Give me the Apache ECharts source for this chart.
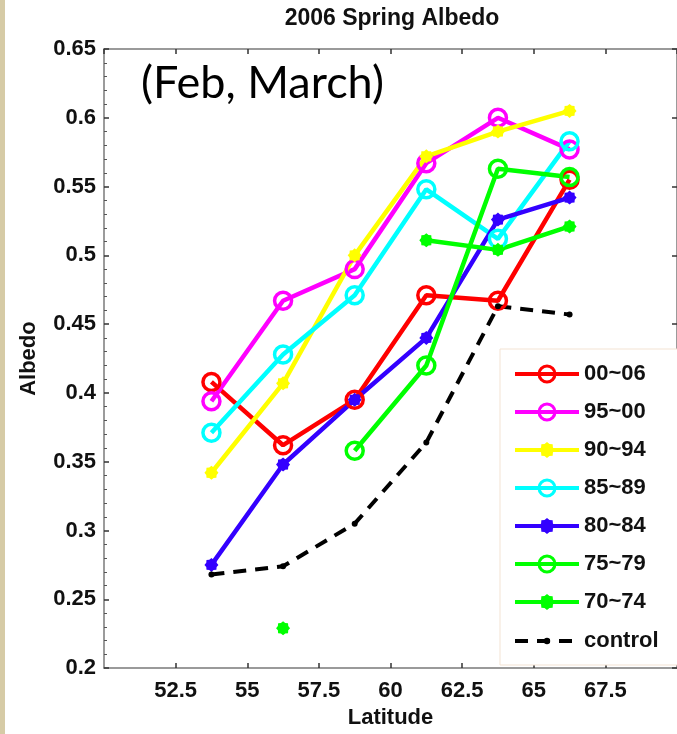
<!DOCTYPE html>
<html>
<head>
<meta charset="utf-8">
<script src="https://cdn.jsdelivr.net/npm/echarts@6/dist/echarts.min.js"></script>
<style>
  html, body { margin: 0; padding: 0; background: #fff; }
  #chart { width: 677px; height: 734px; }
</style>
</head>
<body>
<div id="chart"></div>
<script>
// latitude bins (x) and albedo per period (y)
const latitudes = [53.75, 56.25, 58.75, 61.25, 63.75, 66.25];
const a0006 = [0.408, 0.362, 0.395, 0.471, 0.467, 0.555];
const a9500 = [0.394, 0.467, 0.490, 0.567, 0.600, 0.577];
const a9094 = [0.342, 0.407, 0.500, 0.572, 0.590, 0.605];
const a8589 = [0.371, 0.428, 0.471, 0.548, 0.512, 0.583];
const a8084 = [0.275, 0.348, 0.395, 0.440, 0.526, 0.542];
const a7579 = [null, null, 0.358, 0.420, 0.563, 0.557];
const a7074 = [null, 0.229, null, 0.511, 0.504, 0.521];
const aControl = [0.268, 0.274, 0.305, 0.364, 0.463, 0.457];

const FONT = '"Liberation Sans", Arial, sans-serif';
// blobby 8-arm asterisk like matlab's '*' marker
const star = 'path://M10 0L13.1 2.6L17.07 2.93L17.4 6.9L20 10L17.4 13.1L17.07 17.07L13.1 17.4L10 20L6.9 17.4L2.93 17.07L2.6 13.1L0 10L2.6 6.9L2.93 2.93L6.9 2.6Z';

function pairs(vals) {
  return latitudes.map((x, i) => [x, vals[i]]);
}

function circleSeries(name, vals, color) {
  return {
    name: name, type: 'line', data: pairs(vals),
    symbol: 'circle', symbolSize: 17,
    lineStyle: { color: color, width: 4.5 },
    itemStyle: { color: 'rgba(0,0,0,0)', borderColor: color, borderWidth: 3.5 },
    emphasis: { disabled: true }
  };
}

function starSeries(name, vals, color) {
  return {
    name: name, type: 'line', data: pairs(vals),
    symbol: star, symbolSize: 14,
    lineStyle: { color: color, width: 4.5 },
    itemStyle: { color: color },
    emphasis: { disabled: true }
  };
}

const axisGray = '#7a7a7a';
const legendText = { color: '#111', fontFamily: FONT, fontWeight: 'bold', fontSize: 22 };
const ring = { itemStyle: { borderWidth: 3 } };

const chart = echarts.init(document.getElementById('chart'));
chart.setOption({
  animation: false,
  backgroundColor: '#fff',
  grid: { left: 104, right: -5, top: 49, bottom: 62 },
  xAxis: [{
    type: 'value', min: 50, max: 70, interval: 2.5,
    name: 'Latitude', nameLocation: 'middle', nameGap: 38,
    nameTextStyle: { color: '#111', fontFamily: FONT, fontWeight: 'bold', fontSize: 22 },
    axisLine: { show: true, lineStyle: { color: axisGray, width: 1.5 } },
    axisTick: { show: true, inside: true, length: 5, lineStyle: { color: '#333', width: 1.5 } },
    axisLabel: { color: '#111', fontFamily: FONT, fontWeight: 'bold', fontSize: 22, margin: 12,
      showMinLabel: false, showMaxLabel: false },
    splitLine: { show: false }
  }, {
    type: 'value', min: 50, max: 70, interval: 2.5, position: 'top',
    axisLine: { show: true, lineStyle: { color: axisGray, width: 1.5 } },
    axisTick: { show: true, inside: true, length: 5, lineStyle: { color: '#333', width: 1.5 } },
    axisLabel: { show: false },
    splitLine: { show: false }
  }],
  yAxis: [{
    type: 'value', min: 0.2, max: 0.65, interval: 0.05,
    name: 'Albedo', nameLocation: 'middle', nameGap: 64, nameRotate: 90,
    nameTextStyle: { color: '#111', fontFamily: FONT, fontWeight: 'bold', fontSize: 22 },
    axisLine: { show: true, lineStyle: { color: axisGray, width: 1.5 } },
    axisTick: { show: true, inside: true, length: 5, lineStyle: { color: '#333', width: 1.5 } },
    minorTick: { show: true, splitNumber: 5, length: 3, lineStyle: { color: '#555' } },
    axisLabel: { color: '#111', fontFamily: FONT, fontWeight: 'bold', fontSize: 22, margin: 8,
      formatter: v => String(+v.toFixed(2)) },
    splitLine: { show: false }
  }, {
    type: 'value', min: 0.2, max: 0.65, interval: 0.05, position: 'right',
    axisLine: { show: true, lineStyle: { color: axisGray, width: 1.5 } },
    axisTick: { show: true, inside: true, length: 5, lineStyle: { color: '#333', width: 1.5 } },
    axisLabel: { show: false },
    splitLine: { show: false }
  }],
  legend: [{
    orient: 'vertical', left: 500, top: 349,
    padding: [14, 60, 52, 13],
    itemWidth: 64, itemHeight: 20, itemGap: 16,
    backgroundColor: '#fff', borderColor: '#f3e3d3', borderWidth: 1,
    lineStyle: { width: 4 },
    textStyle: legendText,
    data: [
      Object.assign({ name: '00~06' }, ring),
      Object.assign({ name: '95~00' }, ring),
      '90~94',
      Object.assign({ name: '85~89' }, ring),
      '80~84',
      Object.assign({ name: '75~79' }, ring),
      '70~74'
    ]
  }, {
    // control gets its own legend so its dot stays small
    orient: 'vertical', left: 500, top: 630,
    padding: [0, 30, 0, 13],
    itemWidth: 64, itemHeight: 8,
    lineStyle: { width: 4 },
    textStyle: legendText,
    data: ['control']
  }],
  graphic: [
    { type: 'rect', left: 0, top: 0, shape: { width: 5, height: 734 }, style: { fill: '#d6cba6' } },
    { type: 'text', x: 392, y: 19, style: { text: '2006 Spring Albedo', fill: '#111',
      font: 'bold 23px ' + FONT, textAlign: 'center', textVerticalAlign: 'middle' } },
    { type: 'text', x: 141, y: 83, style: { text: '(Feb, March)', fill: '#000',
      font: '45px Lato, "Open Sans", sans-serif', textAlign: 'left', textVerticalAlign: 'middle' } }
  ],
  series: [
    circleSeries('00~06', a0006, '#ff0000'),
    circleSeries('95~00', a9500, '#ff00ff'),
    starSeries('90~94', a9094, '#ffff00'),
    circleSeries('85~89', a8589, '#00ffff'),
    starSeries('80~84', a8084, '#3300ff'),
    circleSeries('75~79', a7579, '#00ff00'),
    starSeries('70~74', a7074, '#00ff00'),
    {
      name: 'control', type: 'line', data: pairs(aControl),
      symbol: 'circle', symbolSize: 6,
      lineStyle: { color: '#000', width: 4, type: [13, 9] },
      itemStyle: { color: '#000' },
      emphasis: { disabled: true }
    }
  ]
});
</script>
</body>
</html>
